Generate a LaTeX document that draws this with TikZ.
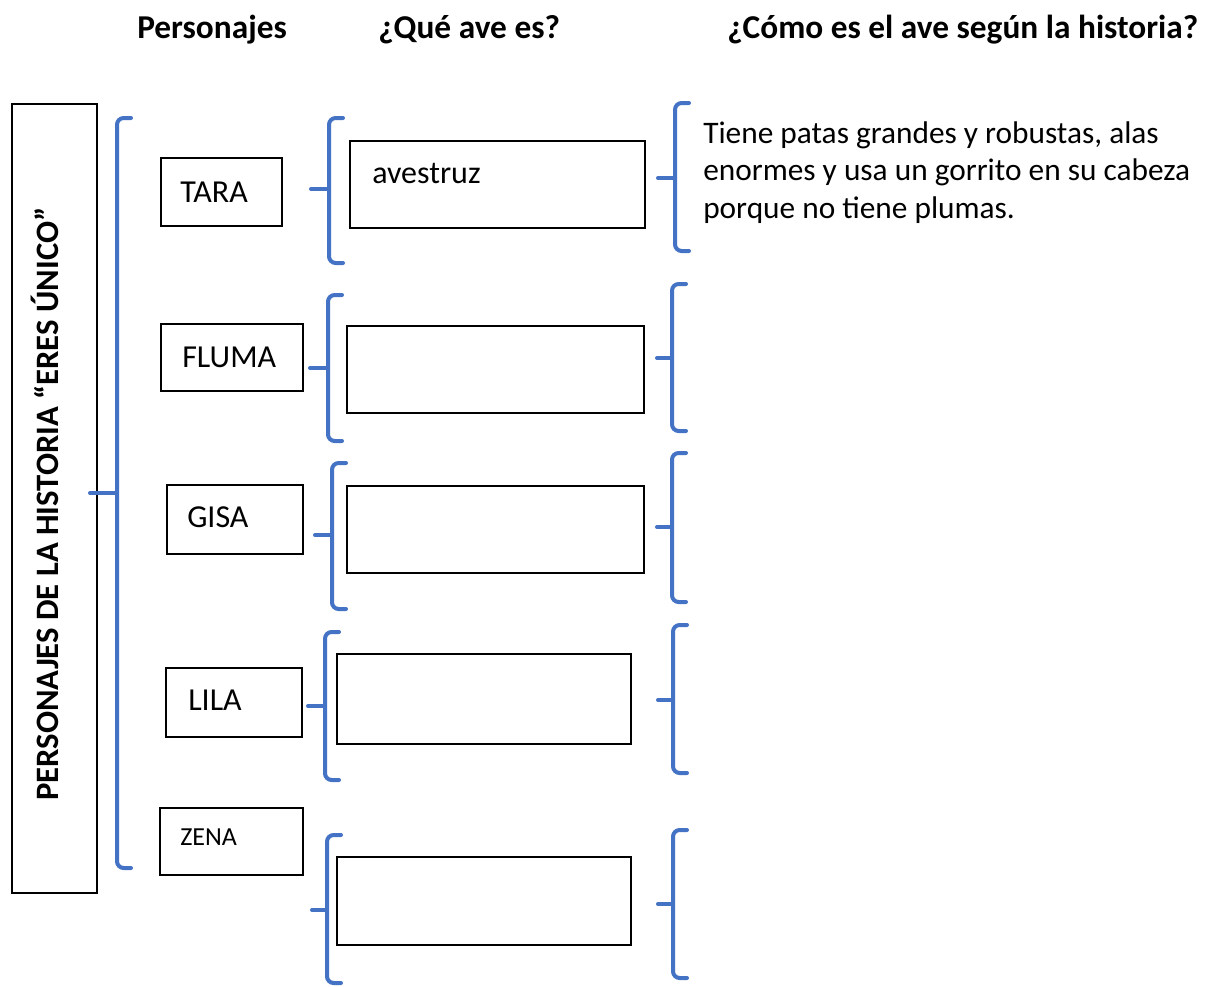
\documentclass[tikz,border=0pt]{standalone}
\usepackage{fontspec}
\setmainfont{Carlito}
\usetikzlibrary{fit}
\definecolor{brkblue}{HTML}{4472C4}
\tikzset{
  brk/.style={draw=brkblue, line width=3pt, rounded corners=5pt, line cap=round},
  tickline/.style={draw=brkblue, line width=3pt, line cap=round},
  box/.style={draw=black, line width=1.4pt, inner sep=0pt},
  lbl/.style={anchor=base west, inner sep=0pt, font=\fontsize{24}{28}\selectfont},
  desc/.style={anchor=base west, inner sep=0pt, font=\fontsize{23.5}{28}\selectfont},
  head/.style={anchor=base west, inner sep=0pt, font=\fontsize{25}{30}\selectfont\bfseries},
}
% name, x, top, bottom, mid, tick start x
\newcommand\mybrk[6]{%
  \coordinate (#1top) at (#2+14,#3);
  \coordinate (#1bot) at (#2+14,#4);
  \coordinate (#1mid) at (#2,#5);
  \coordinate (#1tick) at (#6,#5);
  \draw[brk] (#1top) -- (#2,#3) -- (#2,#4) -- (#1bot);
  \draw[tickline] (#1tick) -- (#1mid);
}
\begin{document}
\begin{tikzpicture}[x=0.75pt,y=-0.75pt]
\useasboundingbox[fill=white] (0,0) rectangle (1221,986);

% headings
\node[head] (h1) at (137,38) {Personajes};
\node[head] (h2) at (378,38) {¿Qué ave es?};
\node[head] (h3) at (727,38) {¿Cómo es el ave según la historia?};

% big vertical box
\node[box, fit={(12,104) (97,893)}] (bigbox) {};
\node[inner sep=0pt, rotate=90, font=\fontsize{24.5}{28}\selectfont\bfseries] (bigtxt) at (45,504) {PERSONAJES DE LA HISTORIA “ERES ÚNICO”};

% big bracket
\mybrk{big}{117}{118}{868}{493}{90}

% name boxes
\node[box, fit={(161,158) (282,226)}] (tarabox) {};
\node[lbl] (tara) at (180,202) {TARA};
\node[box, fit={(161,324) (303,391)}] (flumabox) {};
\node[lbl] (fluma) at (182,367) {FLUMA};
\node[box, fit={(167,485) (303,554)}] (gisabox) {};
\node[lbl] (gisa) at (187,527) {GISA};
\node[box, fit={(166,668) (302,737)}] (lilabox) {};
\node[lbl] (lila) at (188,710) {LILA};
\node[box, fit={(160,808) (303,875)}] (zenabox) {};
\node[lbl, font=\fontsize{19.5}{24}\selectfont] (zena) at (180,845) {ZENA};

% bird boxes
\node[box, fit={(350,141) (645,228)}] (ave1) {};
\node[lbl] (ave1txt) at (372,183) {avestruz};
\node[box, fit={(347,326) (644,413)}] (ave2) {};
\node[box, fit={(347,486) (644,573)}] (ave3) {};
\node[box, fit={(337,654) (631,744)}] (ave4) {};
\node[box, fit={(337,857) (631,945)}] (ave5) {};

% middle brackets
\mybrk{ma}{329}{118}{263}{189}{311}
\mybrk{mb}{328}{295}{441}{368}{310}
\mybrk{mc}{332}{463}{609}{535}{315}
\mybrk{md}{325}{632}{780}{706}{308}
\mybrk{me}{327}{835}{983}{910}{312}

% right brackets
\mybrk{ra}{675}{103}{251}{178}{658}
\mybrk{rb}{672}{284}{431}{358}{657}
\mybrk{rc}{672}{453}{602}{527}{657}
\mybrk{rd}{673}{625}{773}{700}{658}
\mybrk{re}{673}{830}{978}{904}{658}

% description
\node[desc] (d1) at (703,143) {Tiene patas grandes y robustas, alas};
\node[desc] (d2) at (703,180) {enormes y usa un gorrito en su cabeza};
\node[desc] (d3) at (703,218) {porque no tiene plumas.};
\end{tikzpicture}
\end{document}
